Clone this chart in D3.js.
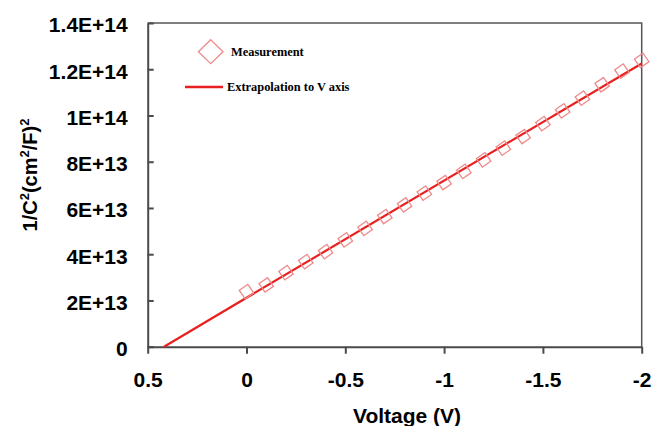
<!DOCTYPE html>
<html>
<head>
<meta charset="utf-8">
<script src="https://cdn.jsdelivr.net/npm/d3@7"></script>
<style>
  html, body { margin: 0; padding: 0; background: #fff; }
  svg { display: block; }
</style>
</head>
<body>
<div id="chart"></div>
<script>
// Voltage (V) of each measurement
const voltages = [0, -0.1, -0.2, -0.3, -0.4, -0.5, -0.6, -0.7, -0.8, -0.9, -1.0,
  -1.1, -1.2, -1.3, -1.4, -1.5, -1.6, -1.7, -1.8, -1.9, -2.0];
// 1/C^2 measured (cm^2/F)^2
const invC2 = [2.38e13, 2.67e13, 3.20e13, 3.68e13, 4.11e13, 4.62e13, 5.12e13, 5.63e13,
  6.13e13, 6.64e13, 7.10e13, 7.58e13, 8.08e13, 8.59e13, 9.09e13, 9.65e13, 1.02e14,
  1.075e14, 1.133e14, 1.192e14, 1.238e14];
// extrapolation line endpoints
const fitV = [0.4175, -2];
const fitY = [0, 1.225e14];

const xTicks = [0.5, 0, -0.5, -1, -1.5, -2];
const xTickLabels = ['0.5', '0', '-0.5', '-1', '-1.5', '-2'];
const yTicks = [0, 2e13, 4e13, 6e13, 8e13, 1e14, 1.2e14, 1.4e14];
const yTickLabels = ['0', '2E+13', '4E+13', '6E+13', '8E+13', '1E+14', '1.2E+14', '1.4E+14'];

const W = 653, H = 426;
const m = { left: 147.7, right: 11.3, top: 23, bottom: 79.3 };

const svg = d3.select('#chart').append('svg')
  .attr('width', W).attr('height', H);

const x = d3.scaleLinear().domain([0.5, -2]).range([m.left, W - m.right]);
const y = d3.scaleLinear().domain([0, 1.4e14]).range([H - m.bottom, m.top]);

const sans = 'Liberation Sans, Arial, sans-serif';
const serif = 'Liberation Serif, Times New Roman, serif';
const axisCol = '#4a4a4a';

// frame (top + right)
svg.append('path')
  .attr('d', `M${x(0.5)},${y(1.4e14)}H${x(-2)}V${y(0)}`)
  .attr('fill', 'none')
  .attr('stroke', '#555')
  .attr('stroke-width', 1.5);

// x axis
const gx = svg.append('g')
  .attr('transform', `translate(0,${y(0)})`)
  .call(d3.axisBottom(x).tickValues(xTicks)
    .tickFormat((d, i) => xTickLabels[i])
    .tickSizeInner(7).tickSizeOuter(0).tickPadding(18));

// y axis
const gy = svg.append('g')
  .attr('transform', `translate(${x(0.5)},0)`)
  .call(d3.axisLeft(y).tickValues(yTicks)
    .tickFormat((d, i) => yTickLabels[i])
    .tickSizeInner(-6).tickSizeOuter(0).tickPadding(20));

[gx, gy].forEach(g => {
  g.select('.domain').attr('stroke', axisCol).attr('stroke-width', 2);
  g.selectAll('.tick line').attr('stroke', axisCol).attr('stroke-width', 2);
  g.selectAll('.tick text')
    .attr('fill', '#000')
    .attr('font-family', sans)
    .attr('font-weight', 'bold')
    .attr('font-size', 21);
});
gy.selectAll('.tick text').attr('dy', '0.42em');

// extrapolation line
svg.append('line')
  .attr('x1', x(fitV[0])).attr('y1', y(fitY[0]))
  .attr('x2', x(fitV[1])).attr('y2', y(fitY[1]))
  .attr('stroke', '#e8201f')
  .attr('stroke-width', 2.2);

// measurement markers (tilted squares)
const half = 5.2;
svg.append('g').selectAll('rect')
  .data(voltages.map((v, i) => ({ v, c: invC2[i] })))
  .enter().append('rect')
  .attr('x', -half).attr('y', -half)
  .attr('width', half * 2).attr('height', half * 2)
  .attr('transform', d => `translate(${x(d.v)},${y(d.c)}) rotate(-35)`)
  .attr('fill', 'none')
  .attr('stroke', '#ee8a8a')
  .attr('stroke-width', 1.3);

// legend
const lg = svg.append('g');
lg.append('path')
  .attr('d', 'M210.7,39.7 L223,51.7 L210.7,63.7 L198.4,51.7 Z')
  .attr('fill', 'none')
  .attr('stroke', '#ee8a8a')
  .attr('stroke-width', 1.3);
lg.append('text')
  .attr('x', 231).attr('y', 56)
  .attr('font-family', serif).attr('font-weight', 'bold').attr('font-size', 12.4)
  .text('Measurement');
lg.append('line')
  .attr('x1', 185).attr('x2', 223).attr('y1', 87).attr('y2', 87)
  .attr('stroke', '#e8201f').attr('stroke-width', 2.5);
lg.append('text')
  .attr('x', 227).attr('y', 91)
  .attr('font-family', serif).attr('font-weight', 'bold').attr('font-size', 12.4)
  .text('Extrapolation to V axis');

// axis titles
svg.append('text')
  .attr('x', 407).attr('y', 423)
  .attr('text-anchor', 'middle')
  .attr('font-family', sans).attr('font-weight', 'bold').attr('font-size', 21)
  .text('Voltage (V)');

const yt = svg.append('text')
  .attr('transform', 'translate(37,175) rotate(-90)')
  .attr('text-anchor', 'middle')
  .attr('font-family', sans).attr('font-weight', 'bold').attr('font-size', 20);
[['1/C', 0], ['2', 1], ['(cm', 0], ['2', 1], ['/F)', 0], ['2', 1]].forEach(([t, sup], i, arr) => {
  const prevSup = i > 0 ? arr[i - 1][1] : 0;
  yt.append('tspan')
    .attr('font-size', sup ? 13 : 20)
    .attr('dy', sup ? -8 : (prevSup ? 8 : 0))
    .text(t);
});
</script>
</body>
</html>
